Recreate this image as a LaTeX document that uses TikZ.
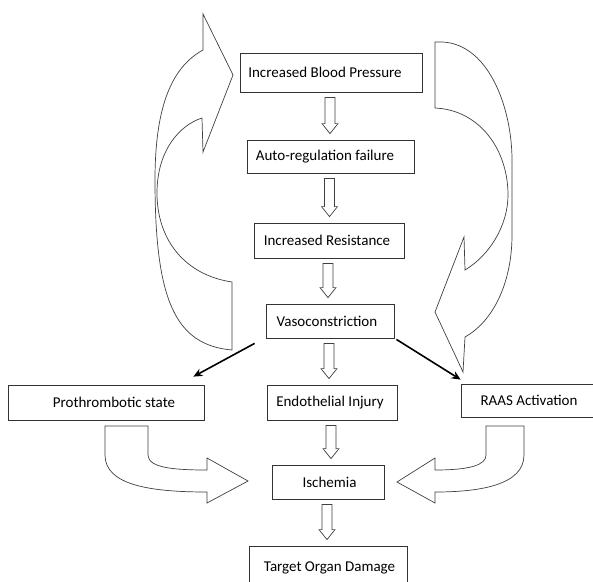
\documentclass[tikz,border=0pt]{standalone}
\usepackage{fontspec}
\setmainfont{Carlito}
\usetikzlibrary{calc,arrows.meta}
\tikzset{
  box/.style={draw=black!80, line width=0.8pt, inner sep=0pt, font=\fontsize{15}{17}\selectfont, text=black},
  blockarrow/.style={draw=black!75, line width=0.7pt, fill=white, line join=miter},
  hollow/.style={draw=black!75, line width=0.7pt, fill=white},
  thickarrow/.style={draw=black, line width=1.6pt, -{Stealth[length=9pt,width=8pt]}}
}
\newcommand\hdown[2]{%
  \draw[hollow] let \p1=($(#1.south)+(-1,5)$), \p2=($(#2.north)+(0,-6)$) in
    (\x1-5pt,\y1) -- (\x1+5pt,\y1) -- (\x1+5pt,\y2+10pt) -- (\x1+8pt,\y2+10pt)
    -- (\x1,\y2) -- (\x1-8pt,\y2+10pt) -- (\x1-5pt,\y2+10pt) -- cycle;}
\begin{document}
\begin{tikzpicture}[x=1pt,y=-1pt]
\clip (0,0) rectangle (593,581);
\fill[white] (0,0) rectangle (593,581);
% boxes
\node[box, minimum width=182, minimum height=39] (bp) at (331,72.5) {Increased Blood Pressure\hspace*{12pt}};
\node[box, minimum width=167, minimum height=33] (ar) at (330.5,156.5) {Auto-regulation failure\hspace*{11pt}};
\node[box, minimum width=150, minimum height=35] (ir) at (329,240.5) {Increased Resistance\hspace*{4pt}};
\node[box, minimum width=128, minimum height=34] (vc) at (330,321) {Vasoconstriction\hspace*{6pt}};
\node[box, minimum width=130, minimum height=35] (ei) at (332,402.5) {Endothelial Injury\hspace*{4pt}};
\node[box, minimum width=196, minimum height=35] (pt) at (106,402.5) {\hspace*{16pt}Prothrombotic state};
\node[box, minimum width=144, minimum height=33] (ra) at (533,400.5) {RAAS Activation\hspace*{8pt}};
\node[box, minimum width=112, minimum height=34] (is) at (328,482) {\hspace*{3pt}Ischemia};
\node[box, minimum width=158, minimum height=44] (td) at (328,568) {\hspace*{3pt}Target Organ Damage};
% hollow down arrows
\hdown{bp}{ar}
\hdown{ar}{ir}
\hdown{ir}{vc}
\hdown{vc}{ei}
\hdown{ei}{is}
\hdown{is}{td}
% black arrows
\draw[thickarrow] ($(vc.south west)+(-11,5)$) -- ($(pt.north east)+(-11,-8)$);
\draw[thickarrow] ($(vc.south east)+(2,1)$) -- ($(ra.north west)+(0,-4)$);
% left big curved arrow
\draw[blockarrow] (203,50) .. controls (170,68) and (155,110) .. (155,180)
  .. controls (155,300) and (175,345) .. (232,350) -- (232,282)
  .. controls (185,275) and (157,240) .. (157,193)
  .. controls (157,150) and (180,125) .. (202,118)
  -- (203,152) -- (233,75) -- (203,14) -- cycle;
% right big curved arrow
\draw[blockarrow] (435,42) -- (443,42) .. controls (490,45) and (512,110) .. (512,160)
  -- (512,235) .. controls (512,280) and (495,320) .. (465,337)
  -- (463,372) -- (435,312) -- (464,237) -- (465,270)
  .. controls (490,255) and (508,225) .. (508,195)
  .. controls (508,150) and (480,110) .. (435,108) -- cycle;
% bottom-left arrow
\draw[blockarrow] (105,426) -- (148,426) -- (148,455)
  .. controls (148,468) and (175,470) .. (207,470) -- (207,458) -- (248,481)
  -- (207,503) -- (207,492) .. controls (150,492) and (105,485) .. (105,455) -- cycle;
% bottom-right arrow
\draw[blockarrow] (486,426) -- (524,426) -- (524,455)
  .. controls (524,485) and (480,492) .. (435,492) -- (435,503) -- (397,482)
  -- (435,458) -- (435,470) .. controls (470,470) and (486,465) .. (486,455) -- cycle;
\end{tikzpicture}
\end{document}
